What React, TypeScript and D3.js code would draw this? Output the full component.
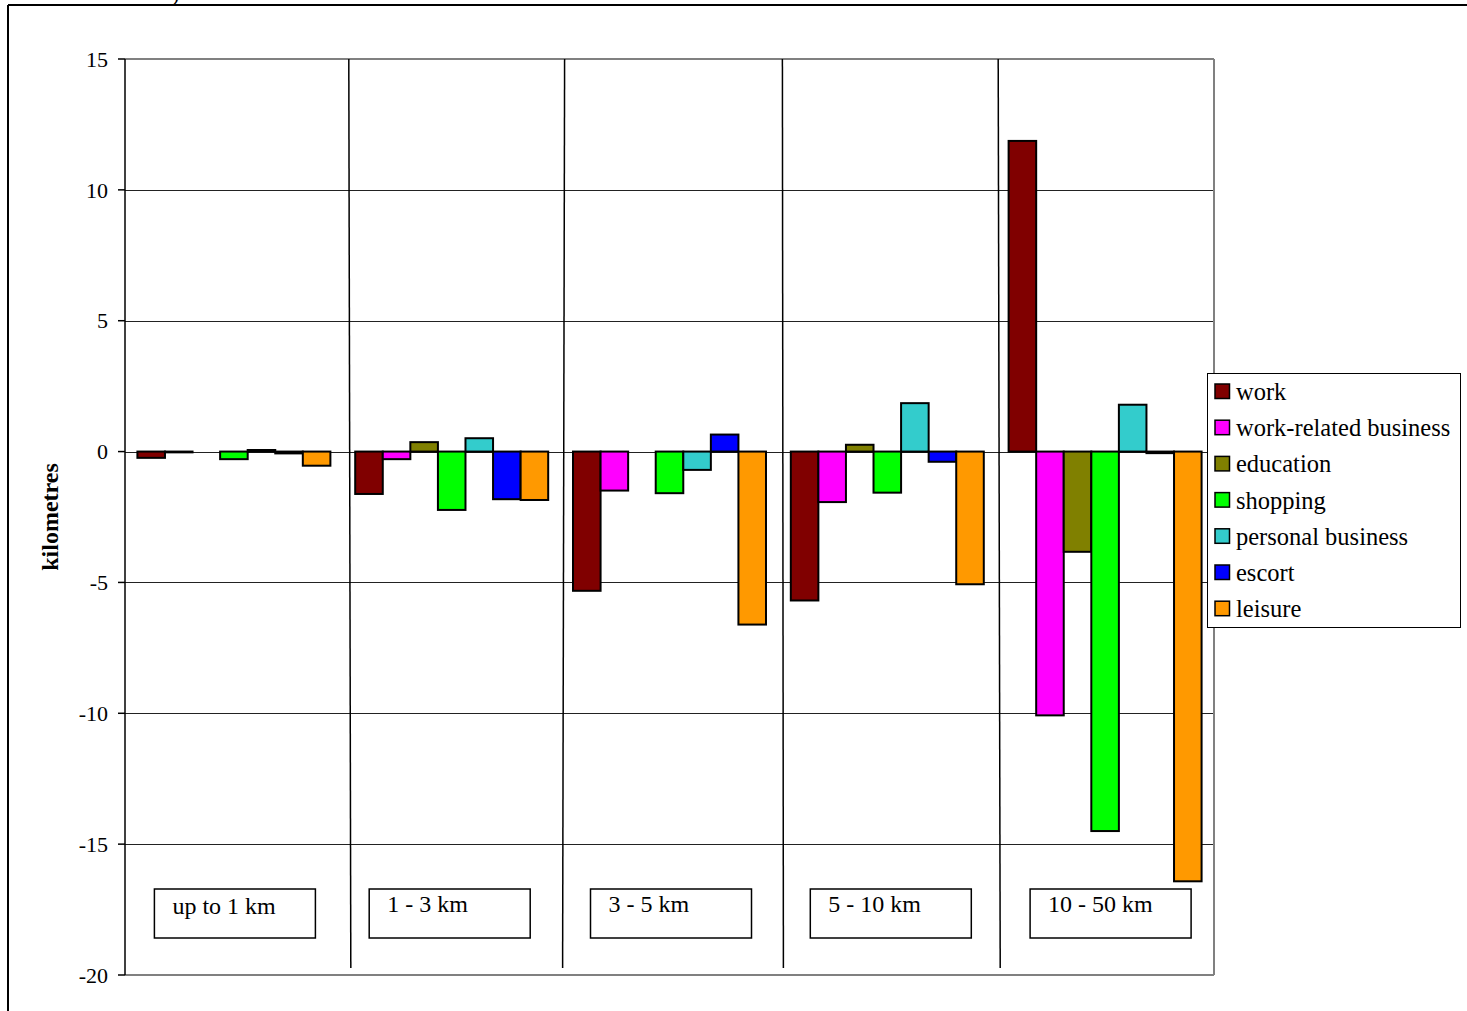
import React from "react";
import * as d3 from "d3";

// Distance bands and trip purposes
const categories = ["up to 1 km", "1 - 3 km", "3 - 5 km", "5 - 10 km", "10 - 50 km"];
const purposes = [
  "work",
  "work-related business",
  "education",
  "shopping",
  "personal business",
  "escort",
  "leisure",
];
const purposeColors = ["#800000", "#FF00FF", "#808000", "#00FF00", "#33CCCC", "#0000FF", "#FF9900"];

// Change in kilometres per purpose, one array per distance band
const upTo1 = [-0.24, -0.03, 0, -0.29, 0.06, -0.07, -0.54];
const from1to3 = [-1.62, -0.29, 0.36, -2.23, 0.51, -1.82, -1.85];
const from3to5 = [-5.32, -1.49, 0, -1.59, -0.7, 0.65, -6.61];
const from5to10 = [-5.69, -1.93, 0.26, -1.57, 1.85, -0.39, -5.07];
const from10to50 = [11.87, -10.08, -3.83, -14.5, 1.79, -0.06, -16.42];
const bandValues = [upTo1, from1to3, from3to5, from5to10, from10to50];

const yTicks = [15, 10, 5, 0, -5, -10, -15, -20];

const W = 1467;
const H = 1011;
const plot = { left: 125, right: 1214, top: 59, bottom: 975 };
const FONT = "'Liberation Serif', 'Times New Roman', serif";

export default function App() {
  const y = d3.scaleLinear().domain([-20, 15]).range([plot.bottom, plot.top]);
  const x0 = d3.scaleBand<string>().domain(categories).range([plot.left, plot.right]).padding(0);
  const x1 = d3
    .scaleBand<string>()
    .domain(purposes)
    .range([0, x0.bandwidth()])
    .paddingInner(0)
    .paddingOuter(0.45);

  // hand-drawn separators between the bands (slightly off the band edges)
  const sepTop = [6, 4, 4, 2];
  const sepBottom = [8, 2, 5, 4];
  const separators = categories.slice(1).map((c, i) => {
    const b = x0(c) as number;
    return { x1: b + sepTop[i], x2: b + sepBottom[i] };
  });

  // label boxes were placed by hand, a little off each band's centre
  const boxShift = [1, -2, 1.5, 3.5, 5.5];
  const boxTextY = [914, 912, 912, 912, 912];

  const legend = { x: 1207.5, y: 373.5, w: 253, h: 254, row: 36.2 };

  return (
    <svg
      width={W}
      height={H}
      viewBox={`0 0 ${W} ${H}`}
      style={{ position: "absolute", left: 0, top: 0, display: "block", background: "#fff" }}
      fontFamily={FONT}
    >
      <rect x={0} y={0} width={W} height={H} fill="#fff" />
      {/* outer frame */}
      <text x={172} y={1} fontSize={22} fill="#000">
        )
      </text>
      <line x1={8} y1={5} x2={W} y2={5} stroke="#000" strokeWidth={2} />
      <line x1={8} y1={5} x2={8} y2={H} stroke="#000" strokeWidth={2} />

      {/* horizontal gridlines */}
      {yTicks
        .filter((t) => t !== 15 && t !== -20)
        .map((t) => (
          <line
            key={`g${t}`}
            x1={plot.left}
            x2={plot.right}
            y1={Math.round(y(t)) + 0.5}
            y2={Math.round(y(t)) + 0.5}
            stroke="#222"
            strokeWidth={1}
          />
        ))}
      {/* plot area border */}
      <line x1={plot.left} x2={plot.right} y1={plot.top} y2={plot.top} stroke="#808080" strokeWidth={2} />
      <line x1={plot.left} x2={plot.right} y1={plot.bottom} y2={plot.bottom} stroke="#808080" strokeWidth={2} />
      <line x1={plot.right} x2={plot.right} y1={plot.top} y2={plot.bottom} stroke="#808080" strokeWidth={2} />

      {/* separators */}
      {separators.map((s, i) => (
        <line key={`s${i}`} x1={s.x1} y1={plot.top} x2={s.x2} y2={968} stroke="#000" strokeWidth={1.5} />
      ))}

      {/* bars */}
      {categories.map((c, ci) => (
        <g key={c} transform={`translate(${x0(c)},0)`}>
          {purposes.map((p, pi) => {
            const v = bandValues[ci][pi];
            const y0 = y(0);
            const yv = y(v);
            return (
              <rect
                key={p}
                x={x1(p)}
                y={Math.min(y0, yv)}
                width={x1.bandwidth()}
                height={Math.abs(yv - y0)}
                fill={purposeColors[pi]}
                stroke="#000"
                strokeWidth={2}
              />
            );
          })}
        </g>
      ))}

      {/* y axis */}
      <line x1={plot.left} x2={plot.left} y1={plot.top} y2={plot.bottom} stroke="#000" strokeWidth={1.5} />
      {yTicks.map((t) => (
        <g key={`t${t}`}>
          <line x1={118} x2={plot.left} y1={y(t)} y2={y(t)} stroke="#000" strokeWidth={1.5} />
          <text x={108} y={y(t)} dy="0.35em" textAnchor="end" fontSize={22} fill="#000">
            {t}
          </text>
        </g>
      ))}
      <text
        transform={`translate(58,517) rotate(-90)`}
        textAnchor="middle"
        fontSize={24}
        fontWeight="bold"
        fill="#000"
      >
        kilometres
      </text>

      {/* category label boxes */}
      {categories.map((c, i) => {
        const cx = (x0(c) as number) + x0.bandwidth() / 2 + boxShift[i];
        const bx = cx - 80.5;
        return (
          <g key={`lab${c}`}>
            <rect x={bx} y={889} width={161} height={49} fill="#fff" stroke="#000" strokeWidth={1.5} />
            <text x={bx + 18} y={boxTextY[i]} fontSize={24} fill="#000">
              {c}
            </text>
          </g>
        );
      })}

      {/* legend */}
      <rect x={legend.x} y={legend.y} width={legend.w} height={legend.h} fill="#fff" stroke="#000" strokeWidth={1} />
      {purposes.map((p, i) => {
        const ry = 384 + i * legend.row;
        return (
          <g key={`leg${p}`}>
            <rect x={1215} y={ry} width={14.5} height={14.5} fill={purposeColors[i]} stroke="#000" strokeWidth={1.5} />
            <text x={1236} y={ry + 16} fontSize={24.5} fill="#000">
              {p}
            </text>
          </g>
        );
      })}
    </svg>
  );
}
